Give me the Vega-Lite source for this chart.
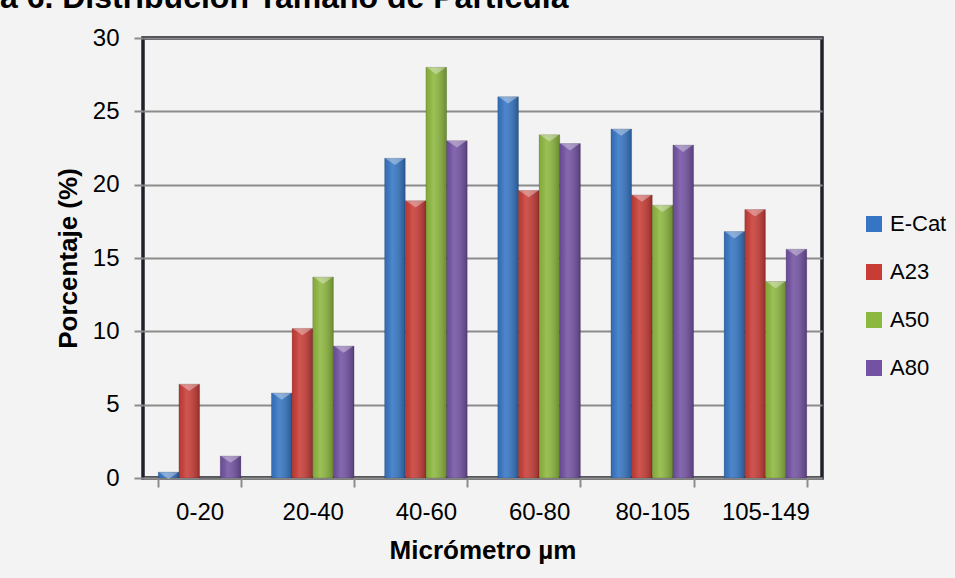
{
  "$schema": "https://vega.github.io/schema/vega-lite/v6.json",
  "width": 679,
  "height": 440,
  "autosize": {"type": "none"},
  "padding": {"left": 143, "top": 38, "right": 133, "bottom": 100},
  "background": "#f3f3f3",
  "title": {
    "text": "Figura 6. Distribución Tamaño de Partícula",
    "anchor": "start",
    "frame": "group",
    "font": "Liberation Sans",
    "fontSize": 32,
    "fontWeight": "bold",
    "color": "#000000",
    "dx": -223,
    "offset": -14,
    "baseline": "alphabetic"
  },
  "config": {
    "font": "Liberation Sans",
    "view": {"stroke": "#20202c", "strokeWidth": 3.5}
  },
  "data": {
    "values": [
      {"rango": "0-20", "serie": "E-Cat", "pct": 0.4},
      {"rango": "0-20", "serie": "A23", "pct": 6.4},
      {"rango": "0-20", "serie": "A50", "pct": 0},
      {"rango": "0-20", "serie": "A80", "pct": 1.5},
      {"rango": "20-40", "serie": "E-Cat", "pct": 5.8},
      {"rango": "20-40", "serie": "A23", "pct": 10.2},
      {"rango": "20-40", "serie": "A50", "pct": 13.7},
      {"rango": "20-40", "serie": "A80", "pct": 9.0},
      {"rango": "40-60", "serie": "E-Cat", "pct": 21.8},
      {"rango": "40-60", "serie": "A23", "pct": 18.9},
      {"rango": "40-60", "serie": "A50", "pct": 28.0},
      {"rango": "40-60", "serie": "A80", "pct": 23.0},
      {"rango": "60-80", "serie": "E-Cat", "pct": 26.0},
      {"rango": "60-80", "serie": "A23", "pct": 19.6},
      {"rango": "60-80", "serie": "A50", "pct": 23.4},
      {"rango": "60-80", "serie": "A80", "pct": 22.8},
      {"rango": "80-105", "serie": "E-Cat", "pct": 23.8},
      {"rango": "80-105", "serie": "A23", "pct": 19.3},
      {"rango": "80-105", "serie": "A50", "pct": 18.6},
      {"rango": "80-105", "serie": "A80", "pct": 22.7},
      {"rango": "105-149", "serie": "E-Cat", "pct": 16.8},
      {"rango": "105-149", "serie": "A23", "pct": 18.3},
      {"rango": "105-149", "serie": "A50", "pct": 13.4},
      {"rango": "105-149", "serie": "A80", "pct": 15.6}
    ]
  },
  "encoding": {
    "x": {
      "field": "rango",
      "type": "nominal",
      "sort": ["0-20", "20-40", "40-60", "60-80", "80-105", "105-149"],
      "scale": {"paddingInner": 0.27, "paddingOuter": 0.135},
      "title": "Micrómetro µm",
      "axis": {
        "labelAngle": 0,
        "labelFontSize": 24,
        "labelColor": "#000000",
        "labelPadding": 13,
        "tickBand": "extent",
        "tickSize": 9,
        "tickColor": "#8c8c8c",
        "tickWidth": 2,
        "domain": true,
        "domainColor": "#8c8c8c",
        "domainWidth": 2,
        "grid": false,
        "titleFontSize": 26,
        "titleFontWeight": "bold",
        "titleColor": "#000000",
        "titlePadding": 13
      }
    },
    "xOffset": {
      "field": "serie",
      "type": "nominal",
      "sort": ["E-Cat", "A23", "A50", "A80"],
      "scale": {"paddingInner": 0, "paddingOuter": 0}
    },
    "y": {
      "field": "pct",
      "type": "quantitative",
      "scale": {"domain": [0, 30], "nice": false},
      "title": "Porcentaje (%)",
      "axis": {
        "values": [0, 5, 10, 15, 20, 25, 30],
        "labelFontSize": 24,
        "labelColor": "#000000",
        "labelPadding": 15,
        "tickSize": 9,
        "tickColor": "#8c8c8c",
        "tickWidth": 2,
        "domain": false,
        "grid": true,
        "gridColor": "#8c8c8c",
        "gridWidth": 2,
        "titleFontSize": 26,
        "titleFontWeight": "bold",
        "titleColor": "#000000",
        "titlePadding": 11
      }
    }
  },
  "layer": [
    {
      "mark": {"type": "bar", "stroke": "#00000033", "strokeWidth": 0.8},
      "encoding": {
        "color": {
          "field": "serie",
          "type": "nominal",
          "sort": ["E-Cat", "A23", "A50", "A80"],
          "scale": {
            "domain": ["E-Cat", "A23", "A50", "A80"],
            "range": ["#3575c4", "#c93c36", "#8db83e", "#7352a3"]
          },
          "legend": {
            "title": null,
            "orient": "none",
            "legendX": 720,
            "legendY": 175,
            "padding": 0,
            "symbolType": "square",
            "symbolSize": 256,
            "symbolStrokeWidth": 0,
            "labelFontSize": 22,
            "labelColor": "#000000",
            "labelOffset": 5,
            "rowPadding": 26
          }
        }
      }
    },
    {
      "mark": {
        "type": "bar",
        "fill": {
          "gradient": "linear",
          "x1": 0, "y1": 0, "x2": 1, "y2": 0,
          "stops": [
            {"offset": 0, "color": "rgba(0,0,0,0.08)"},
            {"offset": 0.35, "color": "rgba(255,255,255,0.12)"},
            {"offset": 1, "color": "rgba(0,0,0,0.25)"}
          ]
        }
      }
    },
    {
      "transform": [{"filter": "datum.pct > 0"}],
      "mark": {
        "type": "point",
        "filled": true,
        "shape": "M -1 0 L 1 0 L 0 0.7 Z",
        "size": 380,
        "fill": "#ffffff",
        "opacity": 0.35,
        "strokeWidth": 0
      }
    }
  ]
}
